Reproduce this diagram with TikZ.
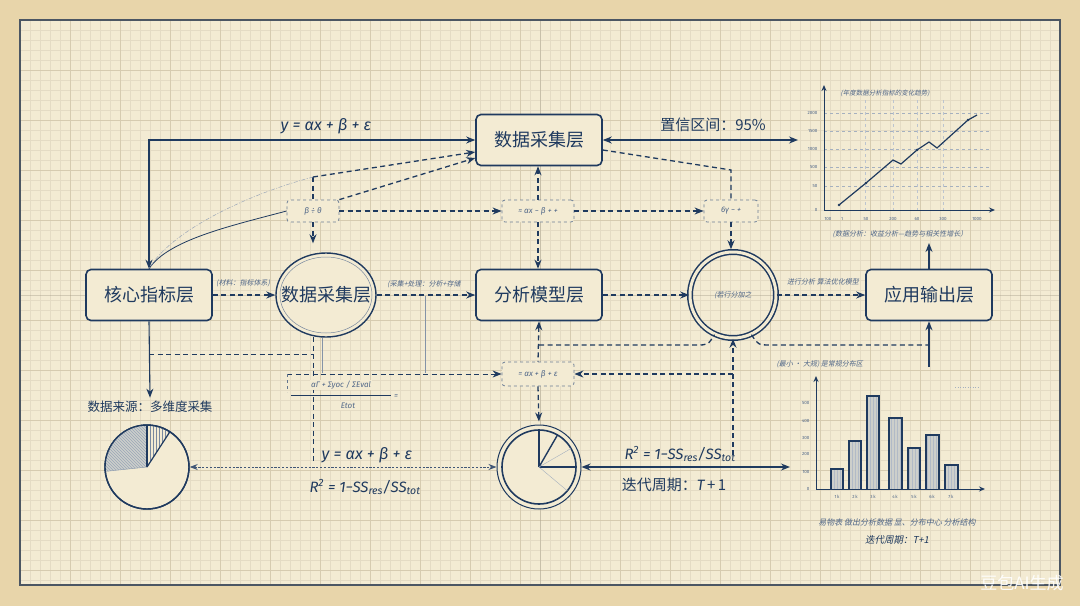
\documentclass[tikz,border=0pt]{standalone}
\usepackage{fontspec}
\setmainfont{Fira Sans}
\newfontfamily\cjk{Noto Sans CJK SC}
\newfontfamily\cjksl{Noto Sans CJK SC}[FakeSlant=0.2]
\newfontfamily\fira{Fira Sans}
\usetikzlibrary{arrows.meta,shapes.geometric,calc,patterns}
\definecolor{ink}{HTML}{1F3A5F}
\definecolor{paper}{HTML}{F3EBD3}
\definecolor{outerpaper}{HTML}{E8D5AA}
\definecolor{gridminor}{HTML}{E4DBC4}
\definecolor{gridmajor}{HTML}{D6CBB0}
\definecolor{framecol}{HTML}{4B5663}
\definecolor{scrib}{HTML}{4F6688}
\definecolor{barfill}{HTML}{CDCFCB}
\tikzset{
  layerbox/.style={draw=ink, line width=1.6pt, rounded corners=5pt, fill=paper,
    minimum width=126pt, minimum height=51pt, text=ink, font=\cjk\fontsize{18}{18}\selectfont},
  smallbox/.style={draw=ink!65, dashed, line width=0.8pt, rounded corners=3pt, fill=paper,
    minimum height=22pt, inner sep=2pt, text=scrib, font=\fira\itshape\fontsize{8}{8}\selectfont},
  arrowto/.style={-{Stealth[length=9pt,width=7pt]}},
  arrowfrom/.style={{Stealth[length=9pt,width=7pt]}-},
  arrowboth/.style={{Stealth[length=9pt,width=7pt]}-{Stealth[length=9pt,width=7pt]}},
  solidln/.style={draw=ink, line width=1.4pt},
  dashln/.style={draw=ink, line width=1.3pt, dash pattern=on 5pt off 3.5pt},
  thinln/.style={draw=ink!55, line width=0.5pt},
  formula/.style={text=ink, font=\fira\itshape\fontsize{16}{16}\selectfont},
  cjklabel/.style={text=ink, font=\cjk\fontsize{15}{15}\selectfont},
  scribble/.style={text=scrib, font=\cjksl\fontsize{7}{7}\selectfont},
  axislbl/.style={text=scrib, font=\fira\fontsize{4.5}{4.5}\selectfont},
  chartln/.style={draw=ink, line width=1pt},
}
\begin{document}
\begin{tikzpicture}[x=1pt,y=-1pt]
\useasboundingbox (0,0) rectangle (1080,606);
% paper
\fill[outerpaper] (0,0) rectangle (1080,606);
\fill[paper] (20,20) rectangle (1060,585);
\foreach \x in {30,40,...,1050} \draw[gridminor, line width=0.4pt] (\x,20) -- (\x,585);
\foreach \y in {30,40,...,580} \draw[gridminor, line width=0.4pt] (20,\y) -- (1060,\y);
\foreach \x in {70,120,...,1050} \draw[gridmajor, line width=0.5pt] (\x,20) -- (\x,585);
\foreach \y in {70,120,...,570} \draw[gridmajor, line width=0.5pt] (20,\y) -- (1060,\y);
\draw[gridmajor!70!black, line width=0.4pt, opacity=0.35] (540,20) -- (540,585);
\draw[gridmajor!70!black, line width=0.4pt, opacity=0.35] (20,295) -- (1060,295);
\draw[framecol, line width=1.3pt] (20,20) rectangle (1060,585);

% ---------- main nodes ----------
\node[layerbox] (top) at (539,140) {数据采集层};
\node[layerbox] (core) at (149,295) {核心指标层};
\node[layerbox] (ana) at (539,295) {分析模型层};
\node[layerbox] (app) at (929,295) {应用输出层};
\node[ellipse, draw=ink, line width=1.4pt, fill=paper, minimum width=100pt, minimum height=84pt, inner sep=0pt] (col) at (326,295) {};
\draw[ink!60, line width=0.5pt] (col.center) ellipse [x radius=46pt, y radius=38pt];
\node[text=ink, font=\cjk\fontsize{18}{18}\selectfont] (coltxt) at (col.center) {数据采集层};
\node[circle, draw=ink, line width=1.5pt, double=paper, double distance=3pt, minimum size=86pt, inner sep=0pt] (ring) at (733,295) {};
\node[scribble] (ringtxt) at (ring.center) {(若行分加之};
\node[circle, draw=ink, line width=1pt, fill=paper, minimum size=84pt, inner sep=0pt] (botc) at (539,467) {};
\node[circle, draw=ink, line width=1.4pt, fill=paper, minimum size=84pt, inner sep=0pt] (lpie) at (147,467) {};

% ---------- small dashed boxes ----------
\node[smallbox, minimum width=52pt] (b1) at (313,211) {β ÷ θ};
\node[smallbox, minimum width=72pt] (b2) at (538,211) {≈ αx − β + +};
\node[smallbox, minimum width=54pt] (b3) at (731,211) {6γ − +};
\node[smallbox, minimum width=72pt, minimum height=24pt] (b4) at (538,374) {= αx + β + ε};

% ---------- coordinates ----------
\coordinate (k1) at (313,177);
\coordinate (k3) at (731,170);
\coordinate (ca) at (929,243);
\coordinate (cb) at (929,367);
\coordinate (k5) at (539,345);
\coordinate (k6) at (696,345);
\coordinate (k7) at (772,345);
\coordinate (k8) at (929,345);
\coordinate (k10) at (149,354);
\coordinate (k11) at (313,354);
\coordinate (k12) at (313,337);
\coordinate (k13) at (313,462);
\coordinate (k14) at (287,374);
\coordinate (k14b) at (287,392);
\coordinate (k15) at (733,374);
\coordinate (k16) at (733,455);
\coordinate (k17) at (790,467);
\coordinate (cr) at (798,140);
\coordinate (t1) at (322,338);
\coordinate (t2) at (322,373);
\coordinate (t3) at (425,296);
\coordinate (t4) at (425,373);

% ---------- top connectors ----------
\draw[solidln, arrowboth] (core.north) |- (top.west);
\node[formula] (eq1) at (326,126) {y = αx + β + ε};
\draw[solidln, arrowboth] (top.east) -- (cr);
\node[cjklabel] (ci) at (713,125) {置信区间：95\%};

\draw[dashln, arrowto] (k1) -- ([yshift=-12pt]top.west);
\draw[dashln] (k1) -- (b1.north);
\draw[dashln, arrowto] (b1.north east) -- ([yshift=-18pt]top.west);
\draw[dashln, arrowto, shorten >=9pt] (b1.south) -- (b1.south |- col.north);
\draw[ink, line width=0.8pt] (b1.west) .. controls (230,226) and (168,240) .. (core.north);
\draw[ink!45, line width=0.5pt, dash pattern=on 4pt off 1.5pt on 1pt off 1.5pt] (k1) .. controls (245,195) and (170,232) .. (core.north);

\draw[dashln, arrowto] (b1.east) -- (b2.west);
\draw[dashln, arrowto] (b2.east) -- (b3.west);
\draw[dashln, arrowto] (b2.north) -- (b2.north |- top.south);
\draw[dashln, arrowto] (b2.south) -- (b2.south |- ana.north);
\draw[dashln] ([yshift=-10pt]top.east) -- (k3) -- (b3.north);
\draw[dashln, arrowto, shorten >=2pt] (b3.south) -- (b3.south |- ring.north);

% ---------- middle row ----------
\draw[dashln, arrowto] (core.east) -- (col.west);
\node[scribble] (s1) at (243,283) {(材料：指标体系)};
\draw[dashln, arrowto] (col.east) -- (ana.west);
\node[scribble] (s2) at (424,284) {(采集+处理：分析+存储};
\draw[dashln, arrowto] (ana.east) -- (ring.west);
\draw[dashln, arrowto] (ring.east) -- (app.west);
\node[scribble] (s3) at (823,282) {进行分析 算法优化模型};
\draw[solidln, arrowto] (app.north) -- (ca);
\draw[solidln, arrowto] (cb) -- (app.south);
\draw[dashln] (k5) -- (k6) .. controls (708,345) .. (ring.-115);
\draw[dashln] (ring.-65) .. controls (758,345) .. (k7) -- (k8);
\draw[dashln, arrowfrom] (ana.south) -- (b4.north);

% ---------- lower left ----------
\node[text=ink, font=\cjk\fontsize{12.5}{12.5}\selectfont] (src) at (150,407) {数据来源：多维度采集};
\draw[ink, line width=1.1pt, arrowto] (core.south) -- (src.north);
\draw[dashln, line width=1pt] (k10) -- (k11);
\draw[dashln, line width=1pt] (k12) -- (k13);
\draw[thinln] (t1) -- (t2);
\draw[thinln] (t3) -- (t4);
\draw[dashln, line width=1pt, arrowto] (k14) -- (b4.west);
\draw[ink!70, line width=0.8pt, dashed] (k14) -- (k14b);
\node[text=scrib, font=\fira\itshape\fontsize{8}{8}\selectfont, fill=paper, inner sep=1pt] (fnum) at (341,385) {αΓ + Σyoc / ΣEval};
\draw[ink, line width=0.9pt] (291,395) -- (391,395);
\node[text=scrib, font=\fira\itshape\fontsize{8}{8}\selectfont] (feq) at (396,397) {=};
\node[text=scrib, font=\fira\itshape\fontsize{8}{8}\selectfont, fill=paper, inner sep=1pt] (fden) at (348,406) {Etot};

% ---------- right of box 4 ----------
\draw[dashln, arrowto] (k15) -- (b4.east);
\draw[dashln, arrowto] (k16) -- (ring.south);
\draw[dashln, arrowto, shorten >=3pt] (b4.south) -- (botc.north);

% ---------- left pie ----------
\fill[barfill] (lpie.center) -- ++(90:42pt) arc[start angle=90, end angle=186, radius=42pt] -- cycle;
\fill[pattern=north west lines, pattern color=ink!45] (lpie.center) -- ++(90:42pt) arc[start angle=90, end angle=186, radius=42pt] -- cycle;
\fill[pattern=vertical lines, pattern color=ink!60] (lpie.center) -- ++(90:42pt) arc[start angle=90, end angle=57, radius=42pt] -- cycle;
\draw[ink, line width=1.2pt] (lpie.center) -- ++(90:42pt);
\draw[ink, line width=1.2pt] (lpie.center) -- ++(57:42pt);
\draw[ink!50, line width=0.5pt] (lpie.center) -- ++(186:42pt);
\draw[ink, line width=1.4pt] (lpie.center) circle [radius=42pt];

% ---------- bottom circle ----------
\draw[ink, line width=1.6pt] (botc.center) circle [radius=37pt];
\draw[ink, line width=1.4pt] (botc.center) -- ++(90:37pt);
\draw[ink, line width=1.4pt] (botc.center) -- ++(60:37pt);
\draw[ink, line width=1.4pt] (botc.center) -- ++(0:37pt);
\draw[ink!40, line width=0.4pt] (botc.center) -- ++(30:37pt);
\draw[ink!40, line width=0.4pt] (botc.center) -- ++(-40:37pt);

% ---------- bottom connectors ----------
\draw[ink!85, line width=1pt, dash pattern=on 2.2pt off 1.6pt, {Stealth[length=8pt,width=6pt]}-{Stealth[length=8pt,width=6pt]}] (lpie.east) -- (botc.west);
\node[formula] (eq2) at (367,455) {y = αx + β + ε};
\node[formula, font=\fira\itshape\fontsize{15}{15}\selectfont] (r2a) at (365,487) {R\textsuperscript{2} = 1−SS\textsubscript{res}/SS\textsubscript{tot}};
\draw[solidln, arrowboth] (botc.east) -- (k17);
\node[formula, font=\fira\itshape\fontsize{15}{15}\selectfont] (r2b) at (680,454) {R\textsuperscript{2} = 1−SS\textsubscript{res}/SS\textsubscript{tot}};
\node[cjklabel] (iter) at (674,485) {迭代周期：{\fira\itshape T}\,+\,1};

% ---------- line chart ----------
\foreach \y in {113,131,149,167,186} \draw[ink!40, line width=0.4pt, dashed] (824,\y) -- (990,\y);
\foreach \x in {865,893,917,943} \draw[ink!30, line width=0.4pt, dashed] (\x,100) -- (\x,210);
\draw[chartln, -{Stealth[length=6pt,width=5pt]}] (824,210) -- (824,85);
\draw[chartln, -{Stealth[length=6pt,width=5pt]}] (824,210) -- (995,210);
\foreach \y/\t in {113/2000,131/1500,149/1000,167/500,186/50,210/0} \node[axislbl, anchor=east] at (821,\y) {\t};
\foreach \x/\t in {828/100,842/1,866/50,893/200,917/60,943/300,977/1000} \node[axislbl] at (\x,219) {\t};
\draw[ink, line width=1.2pt] (839,205) -- (866,183) -- (893,160) -- (901,164) -- (917,150) -- (929,142) -- (937,148) -- (968,120) -- (977,115);
\foreach \p in {(839,205),(866,183),(917,150),(968,120)} \fill[ink] \p circle [radius=1.3pt];
\node[scribble, font=\cjksl\fontsize{6.5}{6.5}\selectfont] (lct) at (885,93) {(年度数据分析指标的变化趋势)};
\node[scribble, font=\cjksl\fontsize{7}{7}\selectfont] (lcc) at (900,234) {(数据分析：收益分析—趋势与相关性增长）};

% ---------- bar chart ----------
\draw[ink!40, line width=0.5pt, dotted] (955,387) -- (978,387);
\foreach \xa/\xb/\ty in {831/843/469,849/861/441,867/879/396,889/902/418,908/920/448,926/939/435,945/958/465} {
  \fill[barfill] (\xa,\ty) rectangle (\xb,489);
  \fill[pattern=vertical lines, pattern color=ink!35] (\xa,\ty) rectangle (\xb,489);
  \draw[ink, line width=1.1pt] (\xa,489) -- (\xa,\ty) -- (\xb,\ty) -- (\xb,489);
}
\draw[chartln, -{Stealth[length=6pt,width=5pt]}] (816,489) -- (816,376);
\draw[chartln, -{Stealth[length=6pt,width=5pt]}] (816,489) -- (985,489);
\foreach \y/\t in {403/500,421/400,438/300,454/200,472/100,489/0} \node[axislbl, anchor=east] at (813,\y) {\t};
\foreach \x/\t in {837/1\,k,855/2\,k,873/3\,k,895/4\,k,914/5\,k,932/6\,k,951/7\,k} \node[axislbl] at (\x,497) {\t};
\node[scribble, anchor=west] (bct) at (773,364) {(最小 · 大规) 是常规分布区};
\node[scribble, font=\cjksl\fontsize{8}{8}\selectfont] (bcc) at (897,522) {易物表 做出分析数据 显、分布中心 分析结构};
\node[text=ink, font=\cjksl\fontsize{9.5}{9.5}\selectfont] (bci) at (897,540) {迭代周期：T+1};

% ---------- watermark ----------
\node[text=white, opacity=0.9, font=\cjk\fontsize{17}{17}\selectfont] (wm) at (1022,583) {豆包AI生成};
\end{tikzpicture}
\end{document}
